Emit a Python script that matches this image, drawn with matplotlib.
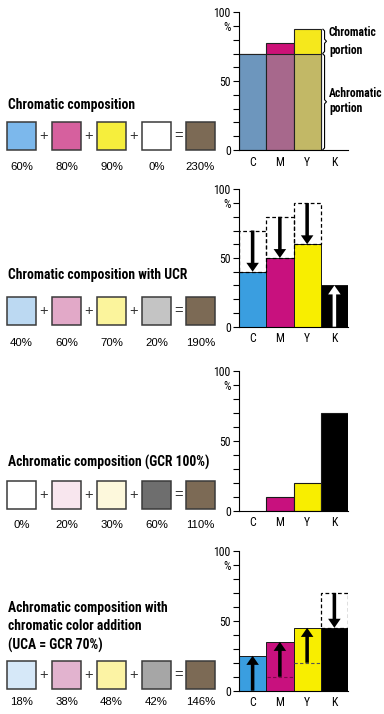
import matplotlib.pyplot as plt
from matplotlib import font_manager as fm
from matplotlib.patches import Rectangle, FancyArrow

# left side: titles, swatches, percentages
row_titles = ["Chromatic composition",
              "Chromatic composition with UCR",
              "Achromatic composition (GCR 100%)",
              "Achromatic composition with\nchromatic color addition\n(UCA = GCR 70%)"]
row_pcts = [[60, 80, 90, 0, 230],
            [40, 60, 70, 20, 190],
            [0, 20, 30, 60, 110],
            [18, 38, 48, 42, 146]]
row_colors = [['#7cb8ec', '#d6609e', '#f6ee3c', '#ffffff', '#7c6a55'],
              ['#bcd9f2', '#e2a9c8', '#fbf49c', '#c4c4c4', '#7c6a55'],
              ['#ffffff', '#f8e6ee', '#fdf8dc', '#6e6e6e', '#7c6a55'],
              ['#d6e8f8', '#e2b3cf', '#fcf3a4', '#a6a6a6', '#7c6a55']]
signs = ['+', '+', '+', '=']

# bar charts
inks = ['C', 'M', 'Y', 'K']
p1_total = [70, 78, 88, 0]
p1_achrom = [70, 70, 70, 0]
p2_before = [70, 80, 90, 0]
p2_after = [40, 50, 60, 30]
p3_vals = [0, 10, 20, 70]
p4_vals = [25, 35, 45, 45]
p4_start = [0, 10, 20, 70]

ink_colors = ['#3a9ee0', '#c8117e', '#f8ee00', '#000000']
p1_top_colors = ['#6d96bd', '#cc1177', '#f5e81c', '#ffffff']
p1_low_colors = ['#6d96bd', '#a7688c', '#c2b866', '#ffffff']


def pick_narrow():
    fl = fm.fontManager.ttflist
    names = {f.name for f in fl}
    for n in ['Liberation Sans Narrow', 'DejaVu Sans Condensed', 'Roboto Condensed',
              'Noto Sans Condensed', 'Open Sans Condensed']:
        if n in names:
            return n, 'normal'
    for n in ['DejaVu Sans', 'Noto Sans', 'Roboto', 'Open Sans']:
        for f in fl:
            if f.name == n and f.stretch in ('condensed', 'semi-condensed'):
                return n, f.stretch
    return 'DejaVu Sans', 'normal'


NARROW, STRETCH = pick_narrow()
NARROW = [NARROW, 'DejaVu Sans']
REG = ['Liberation Sans', 'DejaVu Sans']

W, H = 384, 714
fig = plt.figure(figsize=(3.84, 7.14), dpi=100)
rend = fig.canvas.get_renderer()


def fit(t, target):
    # shrink/grow a text so its width matches the reference
    w = t.get_window_extent(rend).width
    t.set_fontsize(t.get_fontsize() * target / w)


lay = fig.add_axes([0, 0, 1, 1], zorder=0)
lay.set_xlim(0, W)
lay.set_ylim(H, 0)
lay.axis('off')

title_y = [105, 275, 462, 627]
box_top = [122, 297, 481, 661]
label_y = [167, 343, 525, 702]
box_x = [7, 52, 97, 142, 186]
sign_x = [44, 89, 134, 179]
bw, bh = 29, 28

titles = []
for r in range(4):
    t = lay.text(8, title_y[r], row_titles[r], family=NARROW, stretch=STRETCH,
                 fontweight='bold', fontsize=8, va='center', ha='left', linespacing=1.4)
    titles.append(t)
    for i in range(5):
        lay.add_patch(Rectangle((box_x[i], box_top[r]), bw, bh,
                                facecolor=row_colors[r][i], edgecolor='#3a3a3a', lw=1.1))
        lay.text(box_x[i] + bw / 2, label_y[r], f"{row_pcts[r][i]}%", family=REG,
                 fontsize=8.2, ha='center', va='center')
    for j in range(4):
        lay.text(sign_x[j], box_top[r] + bh / 2, signs[j], family=REG, fontsize=10.5,
                 ha='center', va='center', color='#333333')

fit(titles[2], 202)
title_fs = titles[2].get_fontsize()
for t in titles:
    t.set_fontsize(title_fs)

zero_px = [150, 326.7, 510.7, 690.7]
top_px = [12.3, 189.3, 371, 551]
x = [0.5, 1.5, 2.5, 3.5]
yticklabels = ['0', '', '', '', '', '50', '', '', '', '%', '100']
tick_fs = 8.5

axes = []
for r in range(4):
    ax = fig.add_axes([239 / W, 1 - zero_px[r] / H, 109 / W, (zero_px[r] - top_px[r]) / H], zorder=2)
    ax.patch.set_alpha(0)
    ax.set_xlim(0, 4)
    ax.set_ylim(0, 100)
    ax.spines['top'].set_visible(False)
    ax.spines['right'].set_visible(False)
    ax.spines['left'].set_linewidth(0.8)
    ax.spines['bottom'].set_linewidth(0.8)
    ax.set_yticks(range(0, 101, 10))
    ax.set_yticklabels(yticklabels, family=NARROW, stretch=STRETCH, fontsize=tick_fs)
    ax.set_xticks(x)
    ax.set_xticklabels(inks, family=NARROW, stretch=STRETCH, fontsize=tick_fs)
    ax.tick_params(axis='y', length=4, width=0.8, pad=2)
    ax.tick_params(axis='x', length=0, pad=4)
    axes.append(ax)


def arrow(ax, xi, y0, y1, color):
    ax.add_patch(FancyArrow(xi, y0, 0, y1 - y0, width=0.13, head_width=0.46,
                            head_length=6.5, length_includes_head=True,
                            color=color, lw=0, zorder=5))


def brace(ax, xb, y0, y1):
    ym = (y0 + y1) / 2
    ax.plot([xb - 0.06, xb, xb, xb + 0.07, xb, xb, xb - 0.06],
            [y0 + 0.3, y0 + 1.5, ym - 1.5, ym, ym + 1.5, y1 - 1.5, y1 - 0.3],
            color='black', lw=0.8, clip_on=False)


# panel 1: chromatic composition
ax = axes[0]
ax.bar(x[:3], p1_total[:3], width=1, color=p1_top_colors[:3], edgecolor='#222222', lw=0.8)
ax.bar(x[:3], p1_achrom[:3], width=1, color=p1_low_colors[:3], edgecolor='#222222', lw=0.8)
brace(ax, 3.14, p1_achrom[2], p1_total[2])
brace(ax, 3.14, 0, p1_achrom[2])
for txt, yv in [('Chromatic', 85.5), ('portion', 72.5), ('Achromatic', 41), ('portion', 30)]:
    ax.text(3.3, yv, txt, family=NARROW, stretch=STRETCH, fontweight='bold',
            fontsize=title_fs * 0.85, va='center', ha='left', clip_on=False)

# panel 2: UCR
ax = axes[1]
ax.bar(x, p2_after, width=1, color=ink_colors, edgecolor='#1a1a1a', lw=0.7)
for i in range(3):
    ax.bar(x[i], p2_before[i] - p2_after[i], bottom=p2_after[i], width=1, fill=False,
           edgecolor='black', lw=0.9, linestyle=(0, (3, 2)))
    arrow(ax, x[i], p2_before[i], p2_after[i], 'black')
arrow(ax, x[3], 0, p2_after[3], 'white')

# panel 3: GCR 100%
ax = axes[2]
ax.bar(x[1:], p3_vals[1:], width=1, color=ink_colors[1:], edgecolor='#1a1a1a', lw=0.8)

# panel 4: UCA
ax = axes[3]
ax.bar(x, p4_vals, width=1, color=ink_colors, edgecolor='#1a1a1a', lw=0.7)
ax.bar(x[3], p4_start[3] - p4_vals[3], bottom=p4_vals[3], width=1, fill=False,
       edgecolor='black', lw=0.9, linestyle=(0, (3, 2)))
ax.plot([1.02, 1.98], [p4_start[1]] * 2, color='#7a0848', lw=0.8, ls=(0, (3, 2)))
ax.plot([2.02, 2.98], [p4_start[2]] * 2, color='#555555', lw=0.8, ls=(0, (3, 2)))
for i in range(4):
    arrow(ax, x[i], p4_start[i], p4_vals[i], 'black')

fig.savefig('out.png', dpi=100, facecolor='white')
